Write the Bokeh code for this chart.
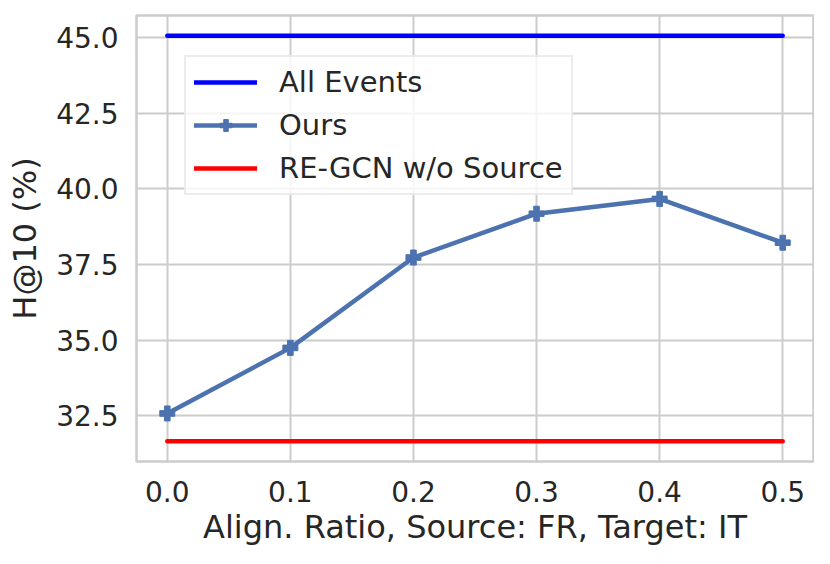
from bokeh.plotting import figure
from bokeh.models import FixedTicker, Range1d, Legend, LegendItem
from bokeh.embed import file_html
from bokeh.resources import INLINE

# ---- data ----
align_ratio = [0.0, 0.1, 0.2, 0.3, 0.4, 0.5]
ours = [32.57, 34.74, 37.73, 39.18, 39.67, 38.22]
all_events = [45.07] * 6
regcn_wo_source = [31.65] * 6
x_ticks = [0.0, 0.1, 0.2, 0.3, 0.4, 0.5]
x_tick_labels = ["0.0", "0.1", "0.2", "0.3", "0.4", "0.5"]
y_ticks = [32.5, 35.0, 37.5, 40.0, 42.5, 45.0]
y_tick_labels = ["32.5", "35.0", "37.5", "40.0", "42.5", "45.0"]

FONT = "DejaVu Sans"
TXT = "#262626"
GRID = "#cccccc"

p = figure(width=814, height=548, output_backend="svg", toolbar_location=None,
           x_range=Range1d(-0.025, 0.525), y_range=Range1d(30.98, 45.74),
           min_border_left=136, min_border_right=1, min_border_top=15, min_border_bottom=85)

p.background_fill_color = "white"
p.border_fill_color = "white"
p.outline_line_color = GRID
p.outline_line_width = 2.5

r_all = p.line(align_ratio, all_events, line_color="#0000ff", line_width=4.5, line_cap="round")
r_ours = p.line(align_ratio, ours, line_color="#4c72b0", line_width=4.5, line_cap="round", line_join="round")
r_ours_m = p.scatter(align_ratio, ours, marker="plus", size=15, fill_color="#4c72b0", line_color="#4c72b0")
r_re = p.line(align_ratio, regcn_wo_source, line_color="#ff0000", line_width=4.5, line_cap="round")

p.xaxis.ticker = FixedTicker(ticks=x_ticks)
p.yaxis.ticker = FixedTicker(ticks=y_ticks)
p.xaxis.major_label_overrides = {t: l for t, l in zip(x_ticks, x_tick_labels)}
p.yaxis.major_label_overrides = {t: l for t, l in zip(y_ticks, y_tick_labels)}

for ax in (p.xaxis, p.yaxis):
    ax.axis_line_color = None
    ax.major_tick_line_color = None
    ax.minor_tick_line_color = None
    ax.major_tick_in = 0
    ax.major_tick_out = 0
    ax.minor_tick_out = 0
    ax.major_label_text_font = FONT
    ax.major_label_text_font_size = "28px"
    ax.major_label_text_color = TXT
    ax.axis_label_text_font = FONT
    ax.axis_label_text_font_size = "32px"
    ax.axis_label_text_font_style = "normal"
    ax.axis_label_text_color = TXT

p.xaxis.axis_label = "Align. Ratio, Source: FR, Target: IT"
p.yaxis.axis_label = "H@10 (%)"
p.xaxis.major_label_standoff = 19
p.yaxis.major_label_standoff = 18
p.xaxis.axis_label_standoff = 3
p.yaxis.axis_label_standoff = 9

p.grid.grid_line_color = GRID
p.grid.grid_line_width = 2

legend = Legend(items=[
    LegendItem(label="All Events", renderers=[r_all]),
    LegendItem(label="Ours", renderers=[r_ours, r_ours_m]),
    LegendItem(label="RE-GCN w/o Source", renderers=[r_re]),
], location=(48, 266))
legend.label_text_font = FONT
legend.label_text_font_size = "29px"
legend.label_text_color = TXT
legend.glyph_width = 63
legend.glyph_height = 30
legend.label_height = 30
legend.spacing = 9
legend.padding = 8
legend.margin = 0
legend.label_standoff = 22
legend.border_line_color = "#d9d9d9"
legend.border_line_width = 2
legend.background_fill_color = "white"
legend.background_fill_alpha = 0.8
p.add_layout(legend, "center")

open("out.html", "w").write(file_html(p, INLINE))
